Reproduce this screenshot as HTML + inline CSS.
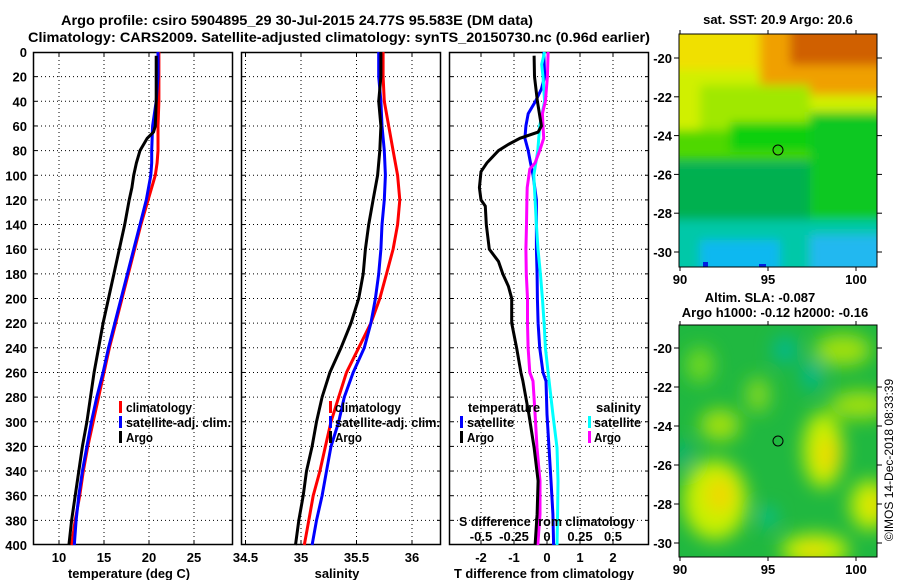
<!DOCTYPE html>
<html><head><meta charset="utf-8"><style>
html,body{margin:0;padding:0;background:#fff}
svg{display:block}
text{font-family:"Liberation Sans",sans-serif;font-weight:bold;font-size:13px;fill:#000}
</style></head><body>
<svg id="fig" width="900" height="580" viewBox="0 0 900 580" xmlns="http://www.w3.org/2000/svg">
<defs>
<filter id="blur4" x="-20%" y="-20%" width="140%" height="140%"><feGaussianBlur stdDeviation="5"/></filter>
<filter id="blur8" x="-30%" y="-30%" width="160%" height="160%"><feGaussianBlur stdDeviation="9"/></filter>
<clipPath id="clipTop"><rect x="679" y="34" width="198" height="233"/></clipPath>
<clipPath id="clipBot"><rect x="679" y="325" width="198" height="232"/></clipPath>
</defs>
<text x="61" y="25" textLength="472" lengthAdjust="spacingAndGlyphs" style="font-size:14px">Argo profile: csiro 5904895_29 30-Jul-2015 24.77S 95.583E (DM data)</text>
<text x="28" y="42" textLength="622" lengthAdjust="spacingAndGlyphs" style="font-size:14px">Climatology: CARS2009. Satellite-adjusted climatology: synTS_20150730.nc (0.96d earlier)</text>

<g>
<text x="778" y="24" text-anchor="middle">sat. SST: 20.9 Argo: 20.6</text>
<g clip-path="url(#clipTop)">
<rect x="679" y="34" width="198" height="233" fill="#00b060"/>
<g filter="url(#blur4)">
<rect x="660" y="20" width="240" height="130" fill="#d0f000"/>
<rect x="660" y="20" width="110" height="50" fill="#f0e000"/>
<rect x="760" y="20" width="140" height="75" fill="#f0a000"/>
<rect x="790" y="20" width="110" height="45" fill="#d06000"/>
<rect x="700" y="85" width="110" height="45" fill="#a0e800"/>
<rect x="660" y="130" width="240" height="30" fill="#50d800"/>
<rect x="810" y="112" width="90" height="110" fill="#10c820"/>
<rect x="730" y="122" width="80" height="30" fill="#10d010"/>
<rect x="660" y="165" width="150" height="70" fill="#00b050"/>
<rect x="660" y="220" width="240" height="60" fill="#00c8a8"/>
<rect x="700" y="240" width="80" height="40" fill="#10b8f0"/>
<rect x="810" y="235" width="90" height="40" fill="#20b8f0"/>
</g>
<rect x="703" y="262" width="5" height="5" fill="#0020e0"/>
<rect x="759" y="264" width="7" height="4" fill="#0020e0"/>
</g>
<rect x="679" y="34" width="198" height="233" fill="none" stroke="#000"/>
<circle cx="778" cy="150" r="5" fill="none" stroke="#000"/>
</g>

<g>
<text x="760" y="302" text-anchor="middle">Altim. SLA: -0.087</text>
<text x="775" y="317" text-anchor="middle">Argo h1000: -0.12 h2000: -0.16</text>
<g clip-path="url(#clipBot)">
<rect x="679" y="325" width="198" height="232" fill="#20b840"/>
<g filter="url(#blur8)">
<ellipse cx="785" cy="350" rx="12" ry="14" fill="#00b890"/>
<ellipse cx="812" cy="375" rx="10" ry="16" fill="#00b890"/>
<ellipse cx="700" cy="365" rx="14" ry="18" fill="#70d820"/>
<ellipse cx="720" cy="425" rx="20" ry="16" fill="#a0e010"/>
<ellipse cx="758" cy="395" rx="12" ry="18" fill="#80d820"/>
<ellipse cx="843" cy="350" rx="28" ry="16" fill="#a0e010"/>
<ellipse cx="860" cy="405" rx="30" ry="14" fill="#a0e010"/>
<ellipse cx="823" cy="450" rx="20" ry="38" fill="#c8f000"/>
<ellipse cx="828" cy="455" rx="10" ry="18" fill="#f0d800"/>
<ellipse cx="715" cy="500" rx="32" ry="40" fill="#c8f000"/>
<ellipse cx="720" cy="495" rx="14" ry="18" fill="#f0d800"/>
<ellipse cx="870" cy="505" rx="20" ry="25" fill="#c8f000"/>
<ellipse cx="876" cy="505" rx="8" ry="12" fill="#f0d800"/>
<ellipse cx="815" cy="550" rx="34" ry="16" fill="#c8f000"/>
<ellipse cx="812" cy="552" rx="12" ry="8" fill="#f0d800"/>
<ellipse cx="768" cy="517" rx="8" ry="10" fill="#00c0a0"/>
<ellipse cx="683" cy="455" rx="8" ry="14" fill="#00b080"/>
</g>
</g>
<rect x="679" y="325" width="198" height="232" fill="none" stroke="#000"/>
<circle cx="778" cy="441" r="5" fill="none" stroke="#000"/>
</g>
<text transform="translate(893,460) rotate(-90)" text-anchor="middle" style="font-weight:normal;font-size:12px">©IMOS 14-Dec-2018 08:33:39</text>
<g id="dyn"></g>
</svg>
<script>
var depthTicks = [0,20,40,60,80,100,120,140,160,180,200,220,240,260,280,300,320,340,360,380,400];
var tempTicks = [10,15,20,25];
var salTicks = [34.5,35,35.5,36];
var salTickLabels = ['34.5','35','35.5','36'];
var tdiffTicks = [-2,-1,0,1,2];
var sdiffTicks = [-0.5,-0.25,0,0.25,0.5];
var sdiffTickLabels = ['-0.5','-0.25','0','0.25','0.5'];

var argoTDepth = [3,20,40,60,65,70,80,90,100,110,120,140,160,180,200,220,240,260,280,300,320,340,360,380,400];
var argoT = [20.8,20.8,20.8,20.7,20.5,19.8,19.0,18.6,18.3,18.1,17.8,17.3,16.7,16.1,15.5,14.9,14.4,13.9,13.5,13.1,12.6,12.2,11.8,11.4,11.1];
var climDepth = [0,20,40,60,80,90,100,120,140,160,180,200,220,240,260,280,300,320,340,360,380,400];
var climT = [21.1,21.1,21.1,21.0,21.0,20.9,20.7,19.9,19.1,18.4,17.7,17.0,16.3,15.6,15.0,14.4,13.8,13.2,12.7,12.3,11.8,11.4];
var satT = [21.0,21.0,20.8,20.4,20.3,20.3,20.2,19.7,19.0,18.3,17.6,16.9,16.2,15.5,14.9,14.2,13.6,13.1,12.6,12.2,11.9,11.7];

var salDepth = [0,20,40,60,80,100,120,140,160,180,200,220,240,260,280,300,320,340,360,380,400];
var argoS = [35.72,35.72,35.70,35.72,35.71,35.69,35.65,35.61,35.58,35.56,35.52,35.45,35.36,35.26,35.19,35.14,35.10,35.05,35.02,34.98,34.95];
var climS = [35.74,35.74,35.75,35.79,35.83,35.87,35.89,35.87,35.83,35.77,35.71,35.63,35.52,35.41,35.34,35.27,35.22,35.17,35.11,35.07,35.03];
var satS = [35.70,35.70,35.72,35.73,35.75,35.76,35.75,35.73,35.72,35.70,35.67,35.63,35.57,35.47,35.39,35.34,35.27,35.23,35.19,35.14,35.10];

var argoTdDepth = [3,20,40,60,65,70,75,80,90,97,110,120,125,140,160,170,180,190,200,220,240,260,267,294,321,348,375,400];
var argoTd = [-0.39,-0.38,-0.29,-0.17,-0.27,-0.82,-1.17,-1.47,-1.82,-2.0,-2.05,-2.0,-1.87,-1.84,-1.75,-1.47,-1.34,-1.17,-1.07,-1.07,-0.92,-0.79,-0.73,-0.55,-0.39,-0.27,-0.3,-0.36];
var satTdDepth = [0,20,30,40,50,60,70,80,90,100,120,140,160,180,200,220,240,260,267,294,321,348,375,400];
var satTd = [-0.1,-0.07,-0.17,-0.35,-0.57,-0.64,-0.67,-0.57,-0.5,-0.42,-0.32,-0.32,-0.32,-0.3,-0.29,-0.27,-0.22,-0.12,-0.03,0,0.06,0.12,0.18,0.2];
var satSdDepth = [0,10,20,40,60,80,100,120,140,160,180,200,220,240,260,294,321,348,375,400];
var satSd = [-0.018,-0.04,-0.03,-0.018,-0.055,-0.07,-0.1,-0.09,-0.08,-0.068,-0.05,-0.035,-0.022,-0.012,0.008,0.045,0.076,0.083,0.08,0.076];
var argoSdDepth = [0,20,40,50,60,70,80,90,95,110,120,140,160,180,200,220,240,260,267,294,321,348,375,400];
var argoSd = [0.008,0.003,-0.012,-0.035,-0.03,-0.025,-0.055,-0.09,-0.13,-0.15,-0.152,-0.155,-0.16,-0.157,-0.148,-0.148,-0.143,-0.13,-0.106,-0.09,-0.076,-0.053,-0.053,-0.07];

var latTicks = [-20,-22,-24,-26,-28,-30];
var lonTicks = [90,95,100];

var NS = 'http://www.w3.org/2000/svg';
var root = document.getElementById('dyn');
function mk(tag, attrs, parent){
  var e = document.createElementNS(NS, tag);
  for (var k in attrs) e.setAttribute(k, attrs[k]);
  (parent || root).appendChild(e);
  return e;
}
var TOP = 52, BOT = 545;
function yD(d){ return TOP + d * (BOT - TOP) / 400; }
function xT(v){ return 149 + (v - 20) * 9; }
function xS(v){ return 301 + (v - 35) * 111; }
function xTd(v){ return 547 + v * 33; }
function xSd(v){ return 547 + v * 132; }

function panel(name, x0, x1, gridXs){
  var g = mk('g', {});
  
  
  depthTicks.forEach(function(d){
    if (d === 0 || d === 400) return;
    var l = mk('line', {x1:x0, x2:x1, y1:yD(d), y2:yD(d), stroke:'#000', 'stroke-width':1, 'stroke-dasharray':'1 3'}, g);
    
    
    mk('line', {x1:x0, x2:x0+4, y1:yD(d), y2:yD(d), stroke:'#000'}, g);
    mk('line', {x1:x1-4, x2:x1, y1:yD(d), y2:yD(d), stroke:'#000'}, g);
  });
  gridXs.forEach(function(x){
    var l = mk('line', {x1:x, x2:x, y1:TOP, y2:BOT, stroke:'#000', 'stroke-width':1, 'stroke-dasharray':'1 3'}, g);
    
    
    mk('line', {x1:x, x2:x, y1:BOT-4, y2:BOT, stroke:'#000'}, g);
    mk('line', {x1:x, x2:x, y1:TOP, y2:TOP+4, stroke:'#000'}, g);
  });
  var r = mk('rect', {x:x0+0.5, y:TOP+0.5, width:x1-x0-1, height:BOT-TOP-1, fill:'none', stroke:'#000', 'stroke-width':1.5}, g);
  
  
  return g;
}
function line(g, name, depths, vals, xf, color){
  var pts = depths.map(function(d,i){ return xf(vals[i]).toFixed(1)+','+yD(d).toFixed(1); }).join(' ');
  var p = mk('polyline', {points:pts, fill:'none', stroke:color, 'stroke-width':3, 'stroke-linejoin':'miter'}, g);
  
  
}
function txt(g, name, x, y, s, anchor, len){
  var t = mk('text', {x:x, y:y, 'text-anchor':anchor||'start'}, g);
  t.textContent = s;
  
  
  if (len) { t.setAttribute('textLength', len); t.setAttribute('lengthAdjust', 'spacingAndGlyphs'); }
  return t;
}
function legendMark(g, x, y, color){
  var m = mk('rect', {x:x, y:y-6, width:3, height:12, fill:color}, g);
  
  
}

var p1 = panel('temperature-panel', 33, 233, tempTicks.map(xT));
depthTicks.forEach(function(d){ txt(p1, 'depth-tick-label', 27, yD(d)+5, String(d), 'end'); });
tempTicks.forEach(function(v){ txt(p1, 'temp-tick-label', xT(v), 562, String(v), 'middle'); });
txt(p1, 'x-axis-title-temperature', 129, 578, 'temperature (deg C)', 'middle', 122);
line(p1, 'temp-climatology-line', climDepth, climT, xT, '#ff0000');
line(p1, 'temp-satellite-line', climDepth, satT, xT, '#0000ff');
line(p1, 'temp-argo-line', argoTDepth, argoT, xT, '#000000');
legendMark(p1, 119, 407, '#ff0000'); txt(p1, 'legend-climatology', 126, 412, 'climatology', 'start', 66);
legendMark(p1, 119, 422, '#0000ff'); txt(p1, 'legend-satellite-adj', 126, 427, 'satellite-adj. clim.', 'start', 105);
legendMark(p1, 119, 437, '#000000'); txt(p1, 'legend-argo', 126, 442, 'Argo', 'start', 27);

var p2 = panel('salinity-panel', 241, 441, salTicks.map(xS));
salTicks.forEach(function(v,i){ txt(p2, 'sal-tick-label', xS(v), 562, salTickLabels[i], 'middle'); });
txt(p2, 'x-axis-title-salinity', 337, 578, 'salinity', 'middle');
line(p2, 'sal-climatology-line', salDepth, climS, xS, '#ff0000');
line(p2, 'sal-satellite-line', salDepth, satS, xS, '#0000ff');
line(p2, 'sal-argo-line', salDepth, argoS, xS, '#000000');
legendMark(p2, 329, 407, '#ff0000'); txt(p2, 'legend-climatology', 335, 412, 'climatology', 'start', 66);
legendMark(p2, 329, 422, '#0000ff'); txt(p2, 'legend-satellite-adj', 335, 427, 'satellite-adj. clim.', 'start', 105);
legendMark(p2, 329, 437, '#000000'); txt(p2, 'legend-argo', 335, 442, 'Argo', 'start', 27);

var p3 = panel('difference-panel', 449, 649, tdiffTicks.map(xTd));
tdiffTicks.forEach(function(v){ txt(p3, 'tdiff-tick-label', xTd(v), 562, String(v), 'middle'); });
txt(p3, 'x-axis-title-tdiff', 544, 578, 'T difference from climatology', 'middle', 180);
line(p3, 'tdiff-satellite-line', satTdDepth, satTd, xTd, '#0000ff');
line(p3, 'sdiff-satellite-line', satSdDepth, satSd, xSd, '#00ffff');
line(p3, 'sdiff-argo-line', argoSdDepth, argoSd, xSd, '#ff00ff');
line(p3, 'tdiff-argo-line', argoTdDepth, argoTd, xTd, '#000000');
txt(p3, 'legend-temperature-heading', 468, 412, 'temperature', 'start', 72);
legendMark(p3, 460, 422, '#0000ff'); txt(p3, 'legend-t-satellite', 467, 427, 'satellite', 'start', 47);
legendMark(p3, 460, 437, '#000000'); txt(p3, 'legend-t-argo', 467, 442, 'Argo', 'start', 27);
txt(p3, 'legend-salinity-heading', 596, 412, 'salinity', 'start', 45);
legendMark(p3, 588, 422, '#00ffff'); txt(p3, 'legend-s-satellite', 594, 427, 'satellite', 'start', 47);
legendMark(p3, 588, 437, '#ff00ff'); txt(p3, 'legend-s-argo', 594, 442, 'Argo', 'start', 27);
txt(p3, 'sdiff-axis-title', 547, 526, 'S difference from climatology', 'middle', 176);
sdiffTicks.forEach(function(v,i){ txt(p3, 'sdiff-tick-label', xSd(v), 541, sdiffTickLabels[i], 'middle'); });

function mapAxes(name, y0, y1, latM20y, latM30y){
  var g = mk('g', {});
  
  
  var ly = function(lat){ return latM20y + (lat + 20) * (latM30y - latM20y) / -10; };
  var lx = function(lon){ return 680 + (lon - 90) * 17.6; };
  latTicks.forEach(function(lat){
    var y = ly(lat);
    mk('line', {x1:674, x2:679, y1:y, y2:y, stroke:'#000'}, g);
    mk('line', {x1:877, x2:882, y1:y, y2:y, stroke:'#000'}, g);
    txt(g, 'lat-tick-label', 672, y+5, String(lat), 'end');
  });
  lonTicks.forEach(function(lon){
    var x = lx(lon);
    mk('line', {x1:x, x2:x, y1:y1, y2:y1+4, stroke:'#000'}, g);
    mk('line', {x1:x, x2:x, y1:y0-4, y2:y0, stroke:'#000'}, g);
    txt(g, 'lon-tick-label', x, y1+17, String(lon), 'middle');
  });
}
mapAxes('sst-map-axes', 34, 267, 58, 252);
mapAxes('sla-map-axes', 325, 557, 348, 543);
</script>
</body></html>
